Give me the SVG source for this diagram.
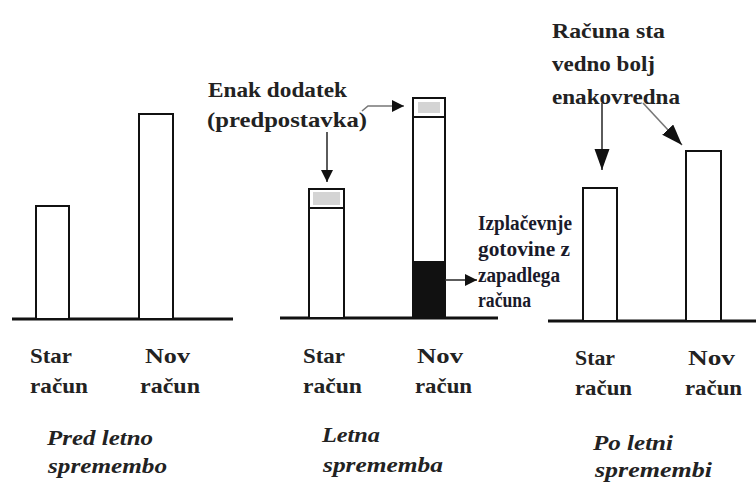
<svg xmlns="http://www.w3.org/2000/svg" width="756" height="486" viewBox="0 0 756 486">
<style>
.base{stroke:#111;stroke-width:3;fill:none}
.bar{stroke:#111;stroke-width:2;fill:#fff}
.grey{fill:#d4d4d4}
text{font-family:'Liberation Serif','Times New Roman',serif;font-weight:bold;fill:#222}
.t{font-size:22px}
.i{font-size:22px;font-style:italic}
.s{font-size:20px;fill:#1a1a2a}
.arr{stroke:#333;stroke-width:1.6;fill:none}
.arrg{stroke:#777;stroke-width:1.6;fill:none}
</style>
<defs>
<marker id="ah" markerUnits="userSpaceOnUse" markerWidth="13" markerHeight="13" refX="12" refY="6" orient="auto"><path d="M0,0 L12,6 L0,12 z" fill="#111"/></marker>
<marker id="ahl" markerUnits="userSpaceOnUse" markerWidth="22" markerHeight="16" refX="21" refY="7.5" orient="auto"><path d="M0,0 L21,7.5 L0,15 z" fill="#111"/></marker>
</defs>
<rect width="756" height="486" fill="#fff"/>

<g id="panel1">
<line class="base" x1="12" y1="319" x2="233" y2="319"/>
<rect class="bar" x="36" y="206" width="33" height="113"/>
<rect class="bar" x="139" y="114" width="34" height="205"/>
<text class="t" x="30" y="363" textLength="42" lengthAdjust="spacingAndGlyphs">Star</text>
<text class="t" x="30" y="393" textLength="58" lengthAdjust="spacingAndGlyphs">račun</text>
<text class="t" x="145" y="363" textLength="45" lengthAdjust="spacingAndGlyphs">Nov</text>
<text class="t" x="140" y="393" textLength="60" lengthAdjust="spacingAndGlyphs">račun</text>
<text class="i" x="47" y="445" textLength="106" lengthAdjust="spacingAndGlyphs">Pred letno</text>
<text class="i" x="48" y="473" textLength="119" lengthAdjust="spacingAndGlyphs">spremembo</text>
</g>

<g id="panel2">
<line class="base" x1="280" y1="318" x2="498" y2="318"/>
<rect class="bar" x="309" y="189" width="35" height="129"/>
<rect class="grey" x="313" y="192" width="27" height="13"/>
<line class="bar" x1="309" y1="208" x2="344" y2="208"/>
<rect class="bar" x="413" y="98" width="32" height="220"/>
<rect class="grey" x="418" y="102" width="22" height="11"/>
<line class="bar" x1="413" y1="117" x2="445" y2="117"/>
<rect x="413" y="262" width="32" height="56" fill="#111" stroke="#111" stroke-width="2"/>
<text class="t" x="208" y="97" textLength="139" lengthAdjust="spacingAndGlyphs">Enak dodatek</text>
<text class="t" x="207" y="127" textLength="160" lengthAdjust="spacingAndGlyphs">(predpostavka)</text>
<text class="t" x="303" y="363" textLength="42" lengthAdjust="spacingAndGlyphs">Star</text>
<text class="t" x="303" y="393" textLength="59" lengthAdjust="spacingAndGlyphs">račun</text>
<text class="t" x="417" y="363" textLength="46" lengthAdjust="spacingAndGlyphs">Nov</text>
<text class="t" x="415" y="393" textLength="57" lengthAdjust="spacingAndGlyphs">račun</text>
<text class="i" x="322" y="442" textLength="58" lengthAdjust="spacingAndGlyphs">Letna</text>
<text class="i" x="323" y="472" textLength="120" lengthAdjust="spacingAndGlyphs">sprememba</text>
<text class="s" x="478" y="230" textLength="94" lengthAdjust="spacingAndGlyphs">Izplačevnje</text>
<text class="s" x="478" y="256" textLength="92" lengthAdjust="spacingAndGlyphs">gotovine z</text>
<text class="s" x="478" y="282" textLength="82" lengthAdjust="spacingAndGlyphs">zapadlega</text>
<text class="s" x="478" y="307" textLength="53" lengthAdjust="spacingAndGlyphs">računa</text>
</g>

<g id="panel3">
<line class="base" x1="548" y1="321" x2="756" y2="321"/>
<rect class="bar" x="583" y="188" width="34" height="133"/>
<rect class="bar" x="686" y="151" width="35" height="170"/>
<text class="t" x="552" y="38" textLength="113" lengthAdjust="spacingAndGlyphs">Računa sta</text>
<text class="t" x="552" y="71" textLength="103" lengthAdjust="spacingAndGlyphs">vedno bolj</text>
<text class="t" x="552" y="104" textLength="128" lengthAdjust="spacingAndGlyphs">enakovredna</text>
<text class="t" x="575" y="365" textLength="40" lengthAdjust="spacingAndGlyphs">Star</text>
<text class="t" x="575" y="395" textLength="57" lengthAdjust="spacingAndGlyphs">račun</text>
<text class="t" x="688" y="365" textLength="47" lengthAdjust="spacingAndGlyphs">Nov</text>
<text class="t" x="685" y="395" textLength="57" lengthAdjust="spacingAndGlyphs">račun</text>
<text class="i" x="593" y="450" textLength="80" lengthAdjust="spacingAndGlyphs">Po letni</text>
<text class="i" x="595" y="477" textLength="117" lengthAdjust="spacingAndGlyphs">spremembi</text>
</g>

<g id="connectors">
<line class="arr" x1="327" y1="132" x2="327" y2="182" marker-end="url(#ah)"/>
<path class="arrg" d="M362,111 L368,106 L404,106" marker-end="url(#ah)"/>
<line class="arr" x1="445" y1="280" x2="477" y2="280" marker-end="url(#ah)"/>
<line class="arr" x1="602" y1="103" x2="602" y2="170" marker-end="url(#ahl)"/>
<line class="arrg" x1="643" y1="103" x2="682" y2="145" marker-end="url(#ahl)"/>
</g>
</svg>
